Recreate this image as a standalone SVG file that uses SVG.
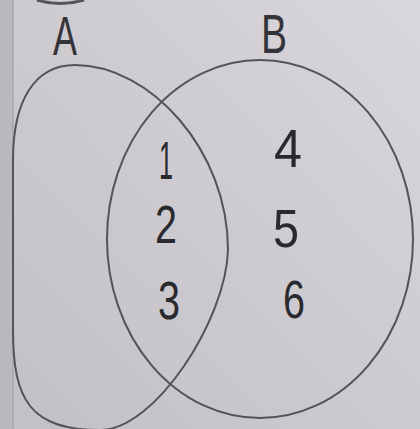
<svg xmlns="http://www.w3.org/2000/svg" width="420" height="429" viewBox="0 0 420 429">
  <defs>
    <linearGradient id="paper" x1="0" y1="1" x2="1" y2="0">
      <stop offset="0" stop-color="#c2bfc6"/>
      <stop offset="0.6" stop-color="#cfcdd2"/>
      <stop offset="1" stop-color="#d9d7db"/>
    </linearGradient>
  </defs>
  <style>
    .set { fill: none; stroke: #55535a; stroke-width: 2; }
    .lbl { font-family: "Liberation Sans", "DejaVu Sans", sans-serif; font-size: 56px; fill: #34333a; text-anchor: middle; }
    .num { font-family: "Liberation Sans", "DejaVu Sans", sans-serif; font-size: 54px; fill: #2a292e; text-anchor: middle; }
  </style>
  <rect x="0" y="0" width="420" height="429" fill="url(#paper)"/>
  <rect x="0" y="0" width="13" height="429" fill="#bab7be"/>
  <line x1="13" y1="0" x2="13" y2="429" stroke="#a9a6ad" stroke-width="1.5"/>
  <path d="M37,0 Q60,7 84,0" fill="none" stroke="#55535a" stroke-width="3"/>

  <g id="setA">
    <path class="set" d="M75,65 C150,65 228,150 228,250 C226,320 155,430 100,430 C30,430 13,400 13,330 L13,160 C13,100 35,65 75,65 Z"/>
    <text class="lbl" x="65" y="55" textLength="24" lengthAdjust="spacingAndGlyphs">A</text>
  </g>
  <g id="setB">
    <ellipse class="set" cx="260" cy="239" rx="153" ry="179"/>
    <text class="lbl" x="274" y="53" textLength="26" lengthAdjust="spacingAndGlyphs">B</text>
  </g>
  <g id="intersection">
    <text class="num" x="166" y="179" textLength="14" lengthAdjust="spacingAndGlyphs">1</text>
    <text class="num" x="166" y="243" textLength="22" lengthAdjust="spacingAndGlyphs">2</text>
    <text class="num" x="169" y="319" textLength="22" lengthAdjust="spacingAndGlyphs">3</text>
  </g>
  <g id="onlyB">
    <text class="num" x="288" y="167" textLength="28" lengthAdjust="spacingAndGlyphs">4</text>
    <text class="num" x="286" y="247" textLength="26" lengthAdjust="spacingAndGlyphs">5</text>
    <text class="num" x="294" y="318" textLength="22" lengthAdjust="spacingAndGlyphs">6</text>
  </g>
  <g id="connectors"></g>
</svg>
